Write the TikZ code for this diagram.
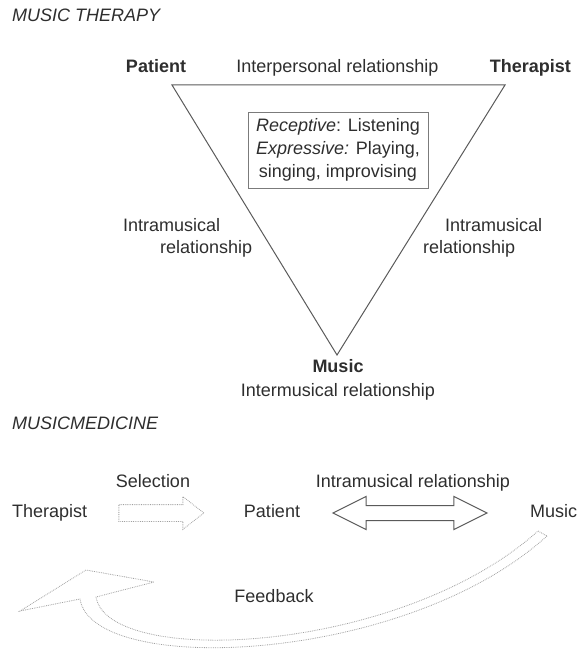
\documentclass[tikz,border=0pt]{standalone}
\usepackage{fontspec}
\setmainfont{Liberation Sans}
\usetikzlibrary{positioning, shapes.arrows}
\definecolor{inkgray}{HTML}{2E2E2E}
\definecolor{edgegray}{HTML}{5A5A5A}
\definecolor{dotgray}{HTML}{A0A0A0}

\begin{document}
\begin{tikzpicture}[x=1pt, y=-1pt, inner sep=0pt, node distance=20pt,
		font=\fontsize{18}{22}\selectfont, text=inkgray,
		word/.style={draw=none,fill=none,text height=13pt,text depth=4pt},
		selarrow/.style={single arrow, draw=dotgray, densely dotted, line width=0.8pt,
			inner xsep=0pt, inner ysep=8pt, minimum height=85pt, minimum width=32pt,
			single arrow head extend=8pt, single arrow tip angle=76},
		relarrow/.style={double arrow, draw=edgegray, line width=1pt,
			inner xsep=0pt, inner ysep=7pt, minimum height=154pt, minimum width=32pt,
			double arrow head extend=9pt, double arrow tip angle=53}]
	\useasboundingbox (0,0) rectangle (579,652);

	% music therapy triangle
	\node[word, anchor=west] (mt) at (12,17) {\itshape MUSIC THERAPY};
	\node[word] (pat) at (156,68) {\bfseries Patient};
	\node[word, right=50pt of pat] (inter) {Interpersonal relationship};
	\node[word, right=51pt of inter] (ther) {\bfseries Therapist};

	\coordinate (tl) at (172,85);
	\coordinate (tr) at (505,85);
	\coordinate (tb) at (337,355);
	\draw[edgegray, line width=1pt, line join=miter] (tl) -- (tr) -- (tb) -- cycle;

	\node[draw=edgegray!80, line width=0.9pt, align=center, minimum width=180pt, minimum height=76pt,
		font=\fontsize{18}{23}\selectfont] (modes) at (338,150)
		{\textit{Receptive}: Listening\\\textit{Expressive:} Playing,\\singing, improvising};

	\node[draw=none, align=left, anchor=north west] (intra-l) at (123,218) {Intramusical\\\hspace*{37pt}relationship};
	\node[draw=none, align=left, anchor=north west] (intra-r) at (423,218) {\hspace*{22pt}Intramusical\\relationship};

	\node[word] (mus) at (338,368) {\bfseries Music};
	\node[word, below=7pt of mus] (inter-m) {Intermusical relationship};

	% music medicine row
	\node[word, anchor=west] (mm) at (12,425) {\itshape MUSICMEDICINE};
	\node[word, anchor=west] (m-ther) at (12,513) {Therapist};
	\node[word] (m-pat) at (272,513) {Patient};
	\node[word, anchor=west] (m-mus) at (530,513) {Music};
	\node[word] (sel) at (153,483) {Selection};
	\node[word] (m-intra) at (413,483) {Intramusical relationship};
	\node[word] (fb) at (274,598) {Feedback};

	\node[selarrow] (sel-arr) at (156,513) {};
	\node[relarrow] (rel-arr) at (410,513) {};

	% feedback loop
	\coordinate (fb-out) at (547,536);
	\coordinate (fb-in) at (538,531);
	\draw[dotgray, densely dotted, line width=0.8pt, line join=miter]
		(fb-out) .. controls (405,665) and (92,677) .. (80,599)
		-- (20,611) -- (86,570) -- (154,582) -- (96,597)
		.. controls (108,668) and (400,655) .. (fb-in) -- cycle;
\end{tikzpicture}
\end{document}
